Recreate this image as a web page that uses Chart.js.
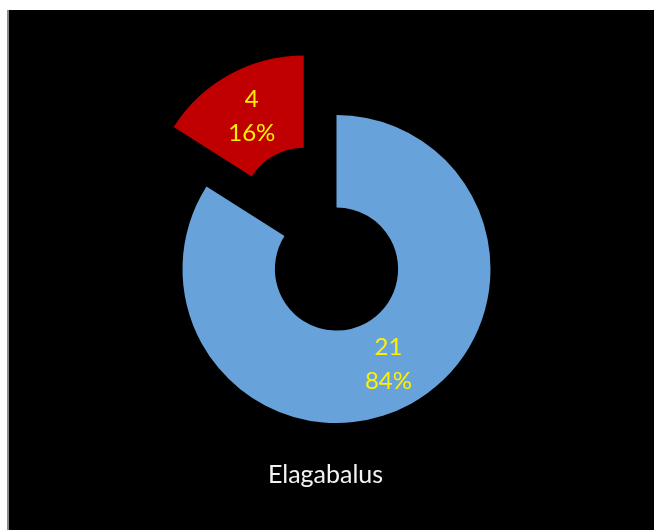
<!DOCTYPE html>
<html>
<head>
<meta charset="utf-8">
<script src="https://cdn.jsdelivr.net/npm/chart.js@4.4.1/dist/chart.umd.min.js"></script>
<style>
    html, body { margin: 0; padding: 0; background: #fff; }
    .frame {
        position: absolute; left: 7px; top: 10px;
        width: 645px; height: 520px;
        background: #000; border-left: 2px solid #8a8a8a;
    }
    canvas { display: block; }
</style>
</head>
<body>
<div class="frame"><canvas id="chart" width="645" height="520"></canvas></div>
<script>
// --- data ---
const categories = ['Group A', 'Group B'];
const values = [21, 4];
const chartTitle = 'Elagabalus';

const sliceColors = ['#67a3da', '#c00000'];
const labelColor = '#fff000';

// --- draws exploded slices + value / percent labels + title ---
const donutExtras = {
    id: 'donutExtras',
    beforeDatasetDraw(chart, args, opts) {
        const ctx = chart.ctx;
        args.meta.data.forEach((arc, i) => {
            const d = opts.explode[i] || 0;
            const mid = (arc.startAngle + arc.endAngle) / 2;
            ctx.save();
            ctx.translate(Math.cos(mid) * d, Math.sin(mid) * d);
            arc.draw(ctx);
            ctx.restore();
        });
        return false;
    },
    afterDatasetsDraw(chart, args, opts) {
        const ctx = chart.ctx;
        const meta = chart.getDatasetMeta(0);
        const total = values.reduce((a, b) => a + b, 0);
        ctx.save();
        ctx.textAlign = 'center';
        ctx.textBaseline = 'alphabetic';
        ctx.font = '24px Lato';
        ctx.fillStyle = labelColor;
        meta.data.forEach((arc, i) => {
            const mid = (arc.startAngle + arc.endAngle) / 2;
            const r = (arc.innerRadius + arc.outerRadius) / 2 + (opts.explode[i] || 0);
            const x = arc.x + Math.cos(mid) * r;
            const y = arc.y + Math.sin(mid) * r;
            ctx.fillText(String(values[i]), x, y - 8);
            ctx.fillText(Math.round(values[i] / total * 100) + '%', x, y + 26);
        });
        // title sits under the ring
        ctx.font = '25px Lato';
        ctx.fillStyle = '#f2f2f2';
        ctx.fillText(chartTitle, 316.5, 473);
        ctx.restore();
    }
};

new Chart(document.getElementById('chart'), {
    type: 'doughnut',
    data: {
        labels: categories,
        datasets: [{
            data: values,
            backgroundColor: sliceColors,
            borderWidth: 0
        }]
    },
    options: {
        responsive: false,
        animation: false,
        events: [],
        radius: 154,
        cutout: '40%',
        layout: { padding: { left: 10, right: 0, top: 0, bottom: 2 } },
        plugins: {
            legend: { display: false },
            tooltip: { enabled: false },
            title: { display: false },
            donutExtras: { explode: [0, 68] }
        }
    },
    plugins: [donutExtras]
});
</script>
</body>
</html>
